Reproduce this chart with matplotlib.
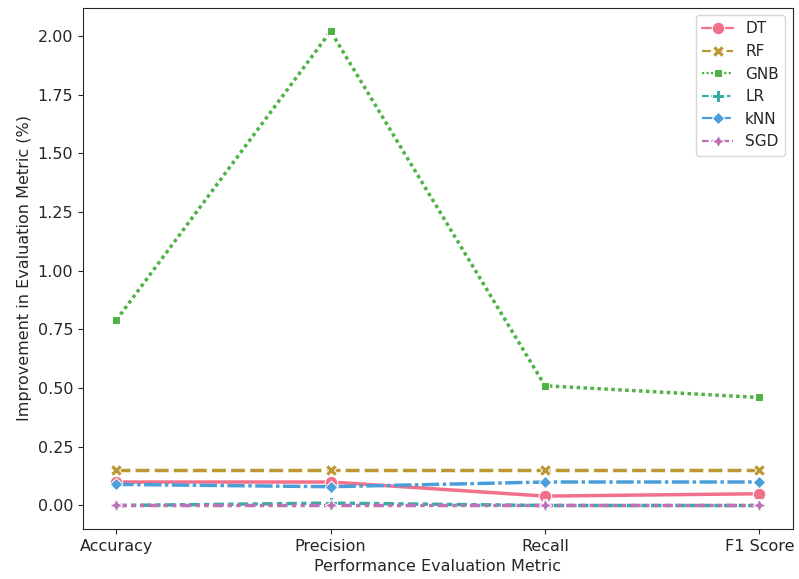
import numpy as np
import pandas as pd
import matplotlib
matplotlib.use('Agg')
import matplotlib.pyplot as plt
import seaborn as sns

metrics = ['Accuracy', 'Precision', 'Recall', 'F1 Score']
models = ['DT', 'RF', 'GNB', 'LR', 'kNN', 'SGD']

dt_vals = [0.10, 0.10, 0.04, 0.05]
rf_vals = [0.15, 0.15, 0.15, 0.15]
gnb_vals = [0.79, 2.02, 0.51, 0.46]
lr_vals = [0.00, 0.01, 0.00, 0.00]
knn_vals = [0.09, 0.08, 0.10, 0.10]
sgd_vals = [0.00, 0.00, 0.00, 0.00]

colors = ['#f27089', '#bb9832', '#4fb245', '#36ada4', '#4a9fda', '#bd72b6']

all_vals = [dt_vals, rf_vals, gnb_vals, lr_vals, knn_vals, sgd_vals]

rows = []
for m, vals in zip(models, all_vals):
    for metric, v in zip(metrics, vals):
        rows.append({'Metric': metric, 'Model': m, 'Improvement': v})
df = pd.DataFrame(rows)

sns.set_style('ticks')
plt.rcParams['font.size'] = 11.5
fig, ax = plt.subplots(figsize=(7.99, 5.79), dpi=100)
fig.subplots_adjust(left=0.104, right=0.992, bottom=0.086, top=0.987)
sns.lineplot(data=df, x='Metric', y='Improvement', hue='Model', style='Model',
             markers=True, dashes=True, palette=colors, linewidth=2.5,
             markersize=9, ax=ax)

ax.set_xlabel('Performance Evaluation Metric', fontsize=11.5)
ax.set_ylabel('Improvement in Evaluation Metric (%)', fontsize=11.5)
ax.tick_params(labelsize=11.5)
ax.set_xlim(-0.155, 3.155)
leg = ax.legend(loc='upper right', fontsize=11)
for h in leg.legend_handles:
    h.set_linewidth(1.6)
    h.set_markersize(9)

plt.savefig('out.png', dpi=100)
